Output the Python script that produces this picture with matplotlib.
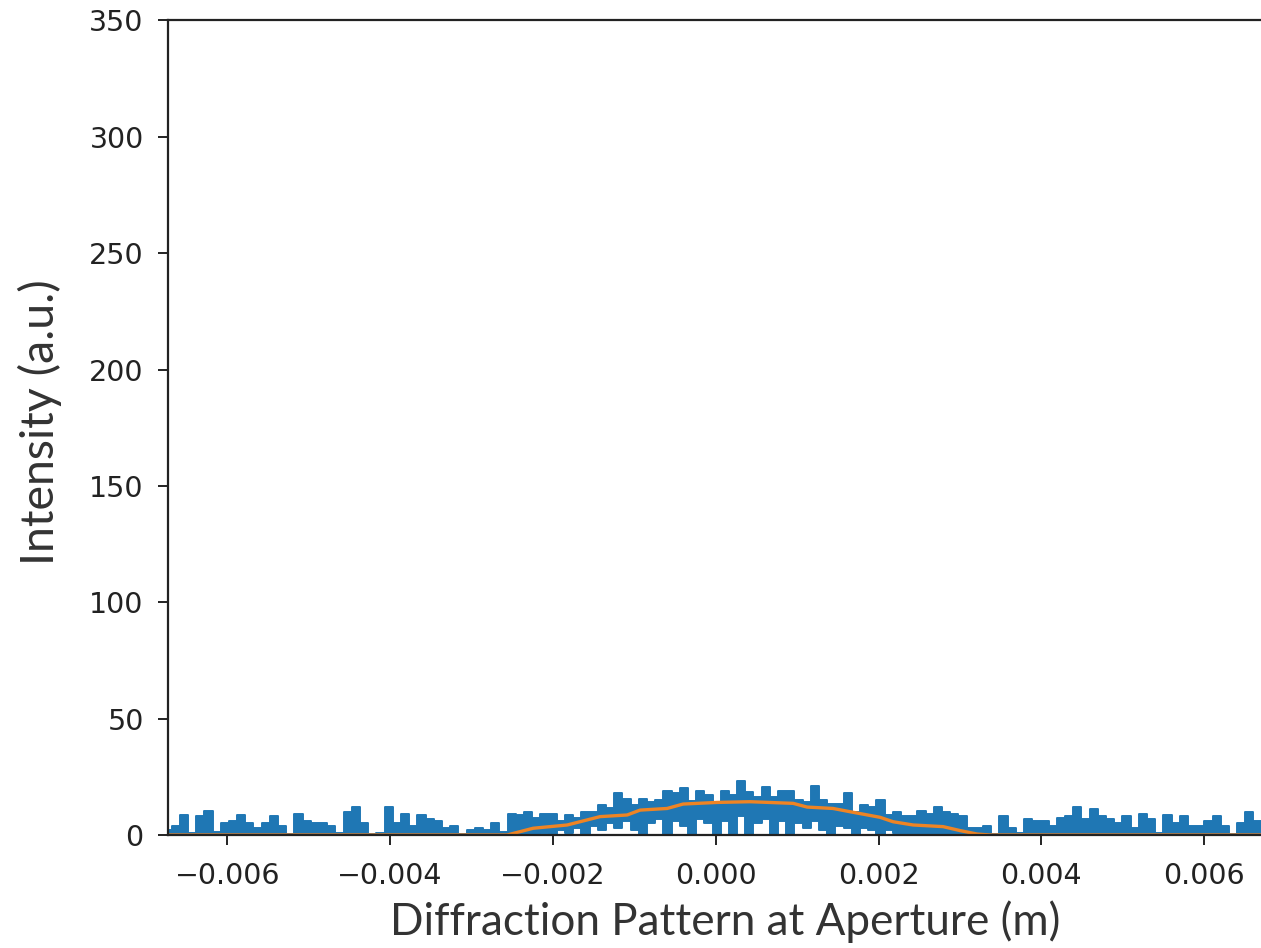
import numpy as np
import matplotlib
matplotlib.use("Agg")
import matplotlib.pyplot as plt

# Blue noisy intensity, binned on a regular grid (metres)
bin_start = -0.006737
bin_step = 0.0001007
blue_upper = [
    2, 4, 8.5, 1, 8, 10.5, 1.5, 5, 6, 8.5,
    5, 3, 5, 8, 4, 0.5, 9, 6, 5, 5,
    4, 1, 10, 12, 5, 0.5, 1, 12, 5, 9,
    4, 8.5, 7, 6, 3, 4, 0.5, 2, 3, 2,
    5, 1.5, 9, 8.5, 10, 7.5, 9, 9, 6, 8.5,
    7.5, 10, 10, 13, 11.5, 18, 15.5, 13, 15.5, 14,
    15, 19, 18, 20, 14.5, 19, 17, 14, 19, 17,
    23, 18.5, 16.5, 20.5, 16.5, 19, 19, 15, 14, 21,
    15, 13.5, 13.5, 18, 10, 13, 12, 15, 8.5, 10,
    8, 8, 10.5, 9, 12, 10, 9, 8, 3, 3,
    4, 0.5, 8, 3, 1, 7, 6, 6, 4, 7.5,
    8, 12, 7, 11, 8, 7, 5, 8, 3, 9,
    7, 1, 8.5, 5, 8, 4, 4, 6, 8, 4,
    0.5, 5, 10, 6, 5,
]
blue_lower = [
    0, 0, 0, 0, 0, 0, 0, 0, 0, 0,
    0, 0, 0, 0, 0, 0, 0, 0, 0, 0,
    0, 0, 0, 0, 0, 0, 0, 0, 0, 0,
    0, 0, 0, 0, 0, 0, 0, 0, 0, 0,
    0, 0, 0, 0, 0, 0, 1, 0, 2, 1,
    3, 0, 4, 2, 5, 3, 6, 2, 0, 5,
    7, 0, 6, 4, 0, 7, 5, 0, 6, 0,
    8, 0, 5, 7, 0, 6, 0, 5, 3, 6,
    2, 0, 4, 3, 0, 3, 2, 0, 2, 1,
    0, 0, 0, 0, 0, 0, 0, 0, 0, 0,
    0, 0, 0, 0, 0, 0, 0, 0, 0, 0,
    0, 0, 0, 0, 0, 0, 0, 0, 0, 0,
    0, 0, 0, 0, 0, 0, 0, 0, 0, 0,
    0, 0, 0, 0, 0,
]

# Orange smooth envelope
orange_x = [-0.0070, -0.002563, -0.002244, -0.001826, -0.001421, -0.001089,
            -0.000930, -0.000598, -0.000402, 0.000016, 0.000421, 0.000950,
            0.001122, 0.001441, 0.001650, 0.002018, 0.002178, 0.002424,
            0.002792, 0.003001, 0.003210, 0.003369, 0.0070]
orange_y = [0, 0, 2.9, 4.3, 7.9, 8.6, 10.7, 11.4, 13.3, 14, 14.3, 13.6, 12,
            11.4, 10, 7.6, 5.7, 4.3, 3.6, 1.9, 0.4, 0, 0]

xticks = [-0.006, -0.004, -0.002, 0.000, 0.002, 0.004, 0.006]
xtick_labels = ["\u22120.006", "\u22120.004", "\u22120.002", "0.000", "0.002", "0.004", "0.006"]
yticks = [0, 50, 100, 150, 200, 250, 300, 350]

W, H = 1261, 948
fig = plt.figure(figsize=(W / 100, H / 100), dpi=100)
ax = fig.add_axes([168 / W, (H - 835) / H, 1095.6 / W, 814.5 / H])

n = len(blue_upper)
bx = bin_start + bin_step * np.arange(n)
ax.fill_between(bx, blue_lower, blue_upper, step="mid", color="#1f77b4",
                lw=1.4, edgecolor="#1f77b4")
ax.plot(orange_x, orange_y, color="#ee8424", lw=2.4)

ax.set_xlim(-0.00673, 0.00673)
ax.set_ylim(0, 350)
ax.set_xticks(xticks)
ax.set_xticklabels(xtick_labels)
ax.set_yticks(yticks)
ax.tick_params(labelsize=20.5, length=7.5, width=1.4, colors="#222222")
ax.tick_params(axis="y", pad=10)
ax.tick_params(axis="x", pad=12)
for s in ax.spines.values():
    s.set_linewidth(1.6)
    s.set_color("#222222")

lab_font = ["Lato", "DejaVu Sans"]
ax.set_xlabel("Diffraction Pattern at Aperture (m)", fontsize=31.7, family=lab_font,
              color="#333333", va="top")
ax.set_ylabel("Intensity (a.u.)", fontsize=33.5, family=lab_font,
              color="#333333")
ax.xaxis.set_label_coords(0.509, -0.080)
ax.yaxis.set_label_coords(-0.097, 0.507)

fig.savefig("out.png", dpi=100)
